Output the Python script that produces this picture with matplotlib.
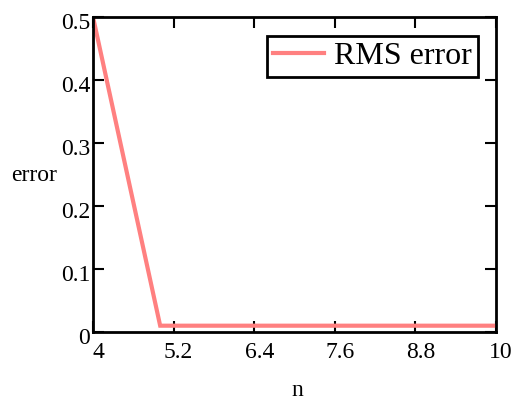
import matplotlib
matplotlib.use("Agg")
import matplotlib.pyplot as plt
from matplotlib.transforms import ScaledTranslation

n = [4, 5, 6, 7, 8, 9, 10]
rms_error = [0.5, 0.01, 0.01, 0.01, 0.01, 0.01, 0.01]
xticks = [4, 5.2, 6.4, 7.6, 8.8, 10]
xtick_labels = ["4", "5.2", "6.4", "7.6", "8.8", "10"]
yticks = [0, 0.1, 0.2, 0.3, 0.4, 0.5]
ytick_labels = ["0", "0.1", "0.2", "0.3", "0.4", "0.5"]

plt.rcParams['font.family'] = ['Liberation Serif', 'DejaVu Serif']

fig = plt.figure(figsize=(5.15, 4.01), dpi=100)
ax = fig.add_axes([93/515, 1 - 332/401, (496-93)/515, (332-17)/401])
ax.plot(n, rms_error, color='#ff8080', lw=3, label='RMS error', solid_joinstyle='miter')
ax.set_xlim(4, 10)
ax.set_ylim(0, 0.5)
ax.set_xticks(xticks)
ax.set_xticklabels(xtick_labels)
ax.set_yticks(yticks)
ax.set_yticklabels(ytick_labels)
ax.tick_params(direction='in', length=8, width=1.5, top=True, right=True, labelsize=17)
ax.tick_params(axis='x', pad=7.5)
ax.tick_params(axis='y', pad=2)
for s in ax.spines.values():
    s.set_linewidth(2)

dx = ScaledTranslation(5/100, 0, fig.dpi_scale_trans)
dy = ScaledTranslation(0, -4/100, fig.dpi_scale_trans)
for lab in ax.get_xticklabels():
    lab.set_transform(lab.get_transform() + dx)
for lab in ax.get_yticklabels():
    lab.set_transform(lab.get_transform() + dy)

ax.set_xlabel('n', fontsize=17, va='baseline')
ax.xaxis.set_label_coords((297-93)/403, (332-396)/315)
ax.set_ylabel('error', fontsize=17, rotation=0, va='center', ha='center')
ax.yaxis.set_label_coords((34-93)/403, 1-(176-17)/315)

leg = ax.legend(loc='upper right', fontsize=23, frameon=True, fancybox=False,
                handlelength=1.6, borderpad=0.19, handletextpad=0.31,
                borderaxespad=0, bbox_to_anchor=((478-93)/403, 1-(36-17)/315))
leg.get_frame().set_edgecolor('black')
leg.get_frame().set_linewidth(2)
leg.get_frame().set_alpha(1)
fig.savefig('out.png', dpi=100)
